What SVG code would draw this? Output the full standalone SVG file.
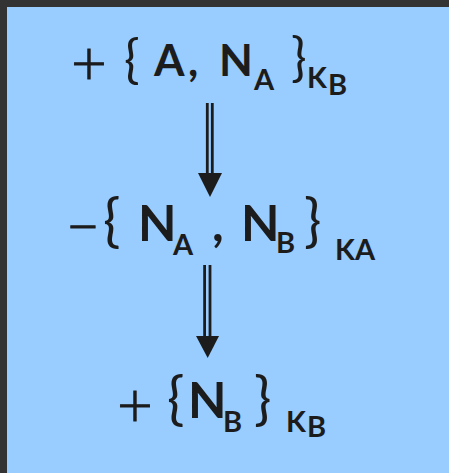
<svg xmlns="http://www.w3.org/2000/svg" width="449" height="473" viewBox="0 0 449 473">
<style>
text{font-family:"Lato","Open Sans",sans-serif;fill:#1c1c1c}
.m1{font-size:44px;font-weight:bold}
.m2{font-size:50px;font-weight:bold}
.s{font-size:29px;font-weight:bold}
.op{font-size:62px;font-weight:300;stroke:#1c1c1c;stroke-width:0.9}
.br1{font-size:52px;font-weight:normal}
.br2{font-size:58px;font-weight:normal}
.ln{stroke:#1c1c1c;stroke-width:2.8;fill:none}
.hd{fill:#1c1c1c}
</style>
<rect x="0" y="0" width="449" height="473" fill="#333333"/>
<rect x="7" y="7" width="442" height="466" fill="#99ccff"/>
<g id="msg1">
<text class="op" x="71" y="84">+</text>
<text class="br1" x="124" y="77">{</text>
<text class="m1" y="76"><tspan x="154">A</tspan><tspan x="188">,</tspan><tspan x="219">N</tspan></text>
<text class="s" x="254" y="90">A</text>
<text class="br1" x="291" y="75">}</text>
<text class="s" x="307" y="88">K</text>
<text class="s" x="328" y="95">B</text>
</g>
<g id="msg2">
<text class="op" x="65" y="245">–</text>
<text class="br2" x="103" y="241">{</text>
<text class="m2" y="241"><tspan x="138">N</tspan><tspan x="212">,</tspan><tspan x="241">N</tspan></text>
<text class="br2" x="304" y="241">}</text>
<text class="s" x="173" y="255">A</text>
<text class="s" x="276" y="253">B</text>
<text class="s" x="335" y="260">K</text>
<text class="s" x="355" y="260">A</text>
</g>
<g id="msg3">
<text class="op" x="117" y="426">+</text>
<text class="br2" x="167" y="419">{</text>
<text class="m2" x="188" y="418">N</text>
<text class="br2" x="254" y="419">}</text>
<text class="s" x="223" y="432">B</text>
<text class="s" x="286" y="432">K</text>
<text class="s" x="307" y="437">B</text>
</g>
<g id="connectors">
<line class="ln" x1="207.3" y1="103" x2="207.3" y2="174"/>
<line class="ln" x1="212.3" y1="103" x2="212.3" y2="174"/>
<polygon class="hd" points="198,173 222,173 210,197"/>
<line class="ln" x1="204.6" y1="265" x2="204.6" y2="337"/>
<line class="ln" x1="210" y1="265" x2="210" y2="337"/>
<polygon class="hd" points="196,336 219,336 207.7,358"/>
</g>
</svg>
